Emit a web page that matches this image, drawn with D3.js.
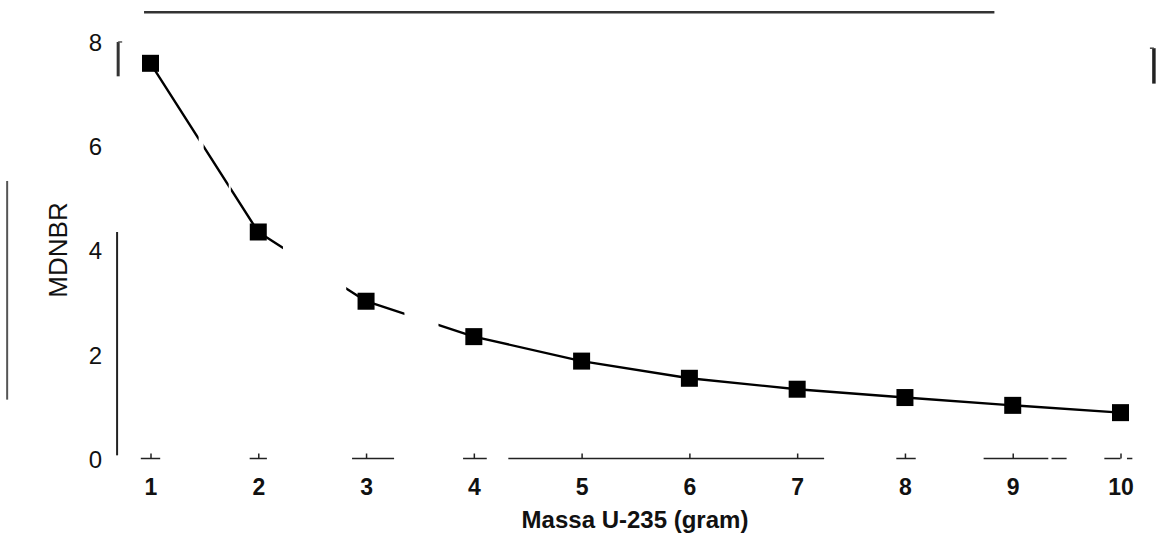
<!DOCTYPE html>
<html>
<head>
<meta charset="utf-8">
<script src="https://cdn.jsdelivr.net/npm/d3@7"></script>
<style>
	body { margin: 0; background: #fff; }
	svg { display: block; font-family: "Liberation Sans", Arial, sans-serif; }
</style>
</head>
<body>
<script>
// data
var massa = [1, 2, 3, 4, 5, 6, 7, 8, 9, 10];
var mdnbr = [7.61, 4.37, 3.04, 2.36, 1.89, 1.56, 1.35, 1.19, 1.04, 0.90];
var yTicks = [0, 2, 4, 6, 8];
var xTicks = [1, 2, 3, 4, 5, 6, 7, 8, 9, 10];
// pieces of the bottom axis that survived the scan (in gram units)
var baseSegments = [[0.91, 1.09], [1.92, 2.08], [2.87, 3.26], [3.9, 4.12], [4.32, 7.25], [7.92, 8.1], [8.73, 9.33], [9.36, 9.5], [9.85, 10.0], [10.06, 10.11]];
// where the curve is broken in the scan
var curveGaps = [[1.447, 1.493], [1.726, 1.745], [2.229, 2.816], [3.356, 3.672]];

var W = 1156, H = 553;
var svg = d3.select("body").append("svg")
	.attr("width", W)
	.attr("height", H);

var x = d3.scaleLinear().domain([1, 10]).range([150.5, 1120.5]);
var y = d3.scaleLinear().domain([0, 8]).range([459.5, 43]);

var points = massa.map(function(m, i){ return {x: m, y: mdnbr[i]}; });

// frame fragments from the scan
var frame = svg.append("g").attr("class", "frame");
frame.append("line")
	.attr("x1", x(0.94)).attr("x2", x(8.83))
	.attr("y1", y(8.59)).attr("y2", y(8.59))
	.attr("stroke", "#333").attr("stroke-width", 2.5);
frame.append("line")
	.attr("x1", x(0.70)).attr("x2", x(0.70))
	.attr("y1", y(8.02)).attr("y2", y(7.36))
	.attr("stroke", "#333").attr("stroke-width", 3);
frame.append("line")
	.attr("x1", x(0.70)).attr("x2", x(0.70) + 4)
	.attr("y1", y(8.02)).attr("y2", y(8.02))
	.attr("stroke", "#555").attr("stroke-width", 1.5);
frame.append("line")
	.attr("x1", x(10.31)).attr("x2", x(10.31))
	.attr("y1", y(7.9)).attr("y2", y(7.22))
	.attr("stroke", "#222").attr("stroke-width", 3.5);
frame.append("line")
	.attr("x1", x(10.31) - 4).attr("x2", x(10.31))
	.attr("y1", y(7.9)).attr("y2", y(7.9))
	.attr("stroke", "#444").attr("stroke-width", 1.5);
frame.append("line")
	.attr("x1", x(-0.33)).attr("x2", x(-0.33))
	.attr("y1", y(5.35)).attr("y2", y(1.15))
	.attr("stroke", "#555").attr("stroke-width", 2);
// partial left axis
frame.append("line")
	.attr("x1", x(0.69)).attr("x2", x(0.69))
	.attr("y1", y(4.37)).attr("y2", y(0.08))
	.attr("stroke", "#222").attr("stroke-width", 2);

// bottom axis pieces
frame.selectAll(".base").data(baseSegments)
	.enter().append("line")
	.attr("class", "base")
	.attr("x1", function(d){ return x(d[0]); })
	.attr("x2", function(d){ return x(d[1]); })
	.attr("y1", y(0) - 1).attr("y2", y(0) - 1)
	.attr("stroke", "#222").attr("stroke-width", 1.5);

// y axis labels
var yAxis = svg.append("g")
	.attr("transform", "translate(" + x(0.69) + ",0)")
	.call(d3.axisLeft(y).tickValues(yTicks).tickSize(0).tickPadding(15).tickFormat(d3.format("d")));
yAxis.select(".domain").remove();
yAxis.selectAll("text")
	.attr("font-size", 24)
	.attr("font-family", "Liberation Sans, Arial, sans-serif")
	.attr("fill", "#111");

// x axis: small upward ticks and bold labels
var xAxis = svg.append("g")
	.attr("transform", "translate(0," + (y(0) - 1) + ")")
	.call(d3.axisBottom(x).tickValues(xTicks).tickSizeInner(-5).tickSizeOuter(0).tickPadding(20).tickFormat(d3.format("d")));
xAxis.select(".domain").remove();
xAxis.selectAll("line").attr("stroke", "#222").attr("stroke-width", 1.5);
xAxis.selectAll("text")
	.attr("font-size", 23)
	.attr("font-weight", "bold")
	.attr("font-family", "Liberation Sans, Arial, sans-serif")
	.attr("fill", "#111");

// axis titles
svg.append("text")
	.attr("transform", "translate(" + 67 + "," + 250 + ") rotate(-90)")
	.attr("text-anchor", "middle")
	.attr("font-size", 26)
	.attr("fill", "#111")
	.text("MDNBR");

svg.append("text")
	.attr("x", 635)
	.attr("y", 528)
	.attr("text-anchor", "middle")
	.attr("font-size", 24)
	.attr("font-weight", "bold")
	.attr("fill", "#111")
	.text("Massa U-235 (gram)");

// mask that cuts the gaps out of the curve
var mask = svg.append("defs").append("mask").attr("id", "gaps");
mask.append("rect").attr("width", W).attr("height", H).attr("fill", "#fff");
mask.selectAll(".gap").data(curveGaps)
	.enter().append("rect")
	.attr("class", "gap")
	.attr("x", function(d){ return x(d[0]); })
	.attr("width", function(d){ return x(d[1]) - x(d[0]); })
	.attr("y", 0).attr("height", H)
	.attr("fill", "#000");

var line = d3.line()
	.x(function(d){ return x(d.x); })
	.y(function(d){ return y(d.y); })
	.curve(d3.curveLinear);

svg.append("path")
	.datum(points)
	.attr("d", line)
	.attr("fill", "none")
	.attr("stroke", "#000")
	.attr("stroke-width", 2.4)
	.attr("stroke-linejoin", "round")
	.attr("mask", "url(#gaps)");

var size = 17;
svg.selectAll(".marker").data(points)
	.enter().append("rect")
	.attr("class", "marker")
	.attr("x", function(d){ return x(d.x) - size / 2; })
	.attr("y", function(d){ return y(d.y) - size / 2; })
	.attr("width", size)
	.attr("height", size)
	.attr("fill", "#000");
</script>
</body>
</html>
